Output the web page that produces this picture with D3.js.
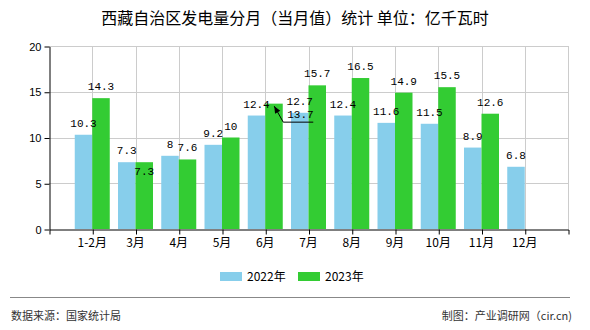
<!DOCTYPE html>
<html>
<head>
<meta charset="utf-8">
<script src="https://cdn.jsdelivr.net/npm/d3@7/dist/d3.min.js"></script>
<style>
  html, body { margin: 0; padding: 0; background: #fff; }
  svg { display: block; }
</style>
</head>
<body>
<svg id="chart" width="590" height="330"></svg>
<script>
const categories = ["1-2月", "3月", "4月", "5月", "6月", "7月", "8月", "9月", "10月", "11月", "12月"];
const values2022 = [10.3, 7.3, 8, 9.2, 12.4, 12.7, 12.4, 11.6, 11.5, 8.9, 6.8];
const values2023 = [14.3, 7.3, 7.6, 10, 13.7, 15.7, 16.5, 14.9, 15.5, 12.6, null];
const yTicks = [0, 5, 10, 15, 20];
const seriesNames = ["2022年", "2023年"];
const title = "西藏自治区发电量分月（当月值）统计 单位：亿千瓦时";
const sourceText = "数据来源：国家统计局";
const creditText = "制图：产业调研网（cir.cn)";

(function () {
const colors = ["#87CEEB", "#33CC33"];
const svg = d3.select("#chart");

const pLeft = 49, pRight = 568, pTop = 46, pBottom = 229;
const x = d3.scalePoint().domain(categories).range([pLeft, pRight]).padding(1);
const y = d3.scaleLinear().domain([0, 20]).range([pBottom, pTop]);
const barW = 17.5;

// Title
svg.append("text").attr("x", 295).attr("y", 24).attr("text-anchor", "middle")
  .attr("font-family", "'Noto Sans CJK SC', sans-serif").attr("font-size", 16)
  .attr("fill", "#000").text(title);

// Grid
const grid = svg.append("g").attr("stroke", "#cccccc").attr("stroke-width", 1);
yTicks.filter(d => d > 0).forEach(t => {
  grid.append("line").attr("x1", pLeft).attr("x2", pRight)
    .attr("y1", Math.round(y(t)) + 0.5).attr("y2", Math.round(y(t)) + 0.5);
});
categories.forEach(c => {
  grid.append("line").attr("x1", Math.round(x(c)) + 0.5).attr("x2", Math.round(x(c)) + 0.5)
    .attr("y1", pTop).attr("y2", pBottom);
});
grid.append("line").attr("x1", pRight + 0.5).attr("x2", pRight + 0.5).attr("y1", pTop).attr("y2", pBottom);

// Bars
const series = [values2022, values2023];
series.forEach((vals, si) => {
  svg.append("g").selectAll("rect")
    .data(categories.map((c, i) => ({c, v: vals[i]})).filter(d => d.v != null))
    .join("rect")
    .attr("x", d => x(d.c) - barW + si * barW)
    .attr("y", d => y(d.v))
    .attr("width", barW)
    .attr("height", d => y(0) - y(d.v))
    .attr("fill", colors[si]);
});

// Axes
const yAxis = d3.axisLeft(y).tickValues(yTicks).tickSize(5).tickSizeOuter(0).tickPadding(3);
const gy = svg.append("g").attr("transform", `translate(${pLeft + 0.5},0.5)`).call(yAxis);
gy.selectAll("text").attr("font-family", "'Liberation Sans', Arial, sans-serif").attr("font-size", 11).attr("fill", "#000");
gy.selectAll("line, path").attr("stroke", "#000");

const xAxis = d3.axisBottom(x).tickSize(5).tickSizeOuter(5).tickFormat("");
const gx = svg.append("g").attr("transform", `translate(0.5,${pBottom + 0.5})`).call(xAxis);
gx.selectAll("line, path").attr("stroke", "#000");

svg.append("g").selectAll("text").data(categories).join("text")
  .attr("x", d => x(d)).attr("y", 247).attr("text-anchor", "middle")
  .attr("font-family", "'Noto Sans CJK SC', sans-serif").attr("font-size", 12).attr("fill", "#000")
  .text(d => d);

// Value labels
const lblFont = "'Liberation Mono', 'DejaVu Sans Mono', monospace";
series.forEach((vals, si) => {
  vals.forEach((v, i) => {
    if (v == null) return;
    const cx = x(categories[i]) - barW / 2 + si * barW;
    const ty = y(v);
    if (si === 1 && i === 1) {
      svg.append("text").attr("x", cx).attr("y", ty + 13).attr("text-anchor", "middle")
        .attr("font-family", lblFont).attr("font-size", 11).attr("fill", "#000").text(v);
    } else if (si === 1 && i === 4) {
      const bx = x(categories[i]);
      svg.append("text").attr("x", bx + 22).attr("y", ty + 14.5)
        .attr("font-family", lblFont).attr("font-size", 11).attr("fill", "#000").text(v);
      svg.append("path")
        .attr("d", `M${bx + 48},${ty + 18.5}H${bx + 18}L${bx + 9},${ty + 2.5}`)
        .attr("fill", "none").attr("stroke", "#000").attr("stroke-width", 1);
      const tipX = bx + 9, tipY = ty + 2.5;
      const ang = Math.atan2((ty + 18.5) - tipY, (bx + 18) - tipX);
      const L = 7, W = 3;
      const p1 = [tipX + L * Math.cos(ang) - W * Math.sin(ang), tipY + L * Math.sin(ang) + W * Math.cos(ang)];
      const p2 = [tipX + L * Math.cos(ang) + W * Math.sin(ang), tipY + L * Math.sin(ang) - W * Math.cos(ang)];
      svg.append("path").attr("d", `M${tipX},${tipY}L${p1[0]},${p1[1]}L${p2[0]},${p2[1]}Z`).attr("fill", "#000");
    } else {
      svg.append("text").attr("x", cx).attr("y", ty - 8).attr("text-anchor", "middle")
        .attr("font-family", lblFont).attr("font-size", 11).attr("fill", "#000").text(v);
    }
  });
});

// Legend
const legX = [220, 298];
seriesNames.forEach((n, i) => {
  svg.append("rect").attr("x", legX[i]).attr("y", 272).attr("width", 22).attr("height", 9).attr("fill", colors[i]);
  svg.append("text").attr("x", legX[i] + 27).attr("y", 281)
    .attr("font-family", "'Noto Sans CJK SC', sans-serif").attr("font-size", 12).attr("fill", "#000").text(n);
});

// Footer
svg.append("line").attr("x1", 10).attr("x2", 570).attr("y1", 297.5).attr("y2", 297.5).attr("stroke", "#888").attr("stroke-width", 1);
svg.append("text").attr("x", 11).attr("y", 320)
  .attr("font-family", "'Noto Sans CJK SC', sans-serif").attr("font-size", 11).attr("fill", "#333").text(sourceText);
svg.append("text").attr("x", 572).attr("y", 320).attr("text-anchor", "end")
  .attr("font-family", "'Noto Sans CJK SC', sans-serif").attr("font-size", 11).attr("fill", "#333").text(creditText);
})();
</script>
</body>
</html>
